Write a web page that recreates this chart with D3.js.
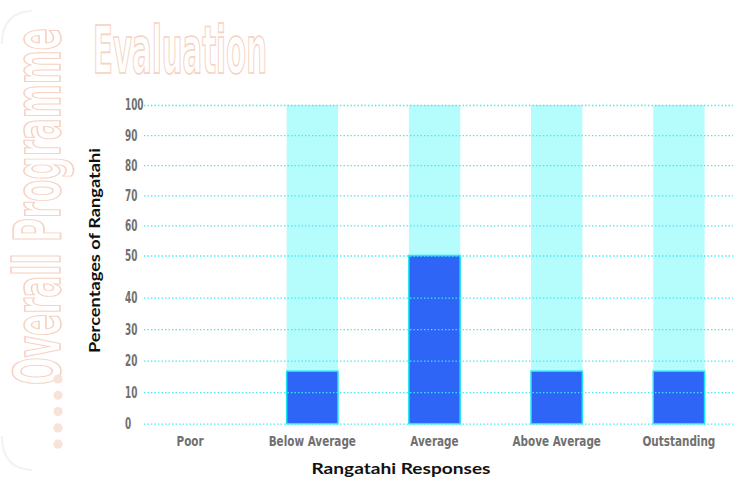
<!DOCTYPE html>
<html>
<head>
<meta charset="utf-8">
<script src="https://cdn.jsdelivr.net/npm/d3@7"></script>
<style>
  html, body { margin: 0; padding: 0; background: #ffffff; }
  svg { display: block; }
</style>
</head>
<body>
<script>
// Survey results: share of rangatahi choosing each rating
const categories = ["Poor", "Below Average", "Average", "Above Average", "Outstanding"];
const percentages = [0, 16.67, 50, 16.67, 16.67];
const backdrop = [0, 100, 100, 100, 100];
const yTicks = [0, 10, 20, 30, 40, 50, 60, 70, 80, 90, 100];

const W = 744, H = 479;
const svg = d3.select("body").append("svg").attr("width", W).attr("height", H);
const defs = svg.append("defs");

// Frame gradients
const gTop = defs.append("linearGradient").attr("id", "frameTop").attr("x1", "0%").attr("x2", "100%");
gTop.append("stop").attr("offset", "0%").attr("stop-color", "#fdf1ec");
gTop.append("stop").attr("offset", "100%").attr("stop-color", "#f3b9a2");
const gBot = defs.append("linearGradient").attr("id", "frameBot").attr("x1", "0%").attr("x2", "100%");
gBot.append("stop").attr("offset", "0%").attr("stop-color", "#f5d3c5");
gBot.append("stop").attr("offset", "100%").attr("stop-color", "#efb198");

// Frame
svg.append("line").attr("x1", 10).attr("x2", 742).attr("y1", 10).attr("y2", 10)
  .attr("stroke", "url(#frameTop)").attr("stroke-width", 1.6);
svg.append("line").attr("x1", 20).attr("x2", 743).attr("y1", 470.5).attr("y2", 470.5)
  .attr("stroke", "url(#frameBot)").attr("stroke-width", 1.6);
svg.append("path").attr("d", "M2,44 Q2,12 32,11").attr("fill", "none")
  .attr("stroke", "#f2f2f2").attr("stroke-width", 2);
svg.append("path").attr("d", "M2,436 Q2,469 32,470").attr("fill", "none")
  .attr("stroke", "#f2f2f2").attr("stroke-width", 2);

// Outlined headings, squeezed horizontally to a target width
const headFont = "'DejaVu Sans Condensed', 'DejaVu Sans', sans-serif";
function outlinedHeading(parent, label, size, targetWidth) {
  const g = parent.append("g");
  const t = g.append("text").attr("x", 0).attr("y", 0)
    .attr("font-family", headFont).attr("font-weight", "bold").attr("font-size", size)
    .attr("fill", "#ffffff").attr("stroke", "#f6d2c3").attr("stroke-width", 1.2)
    .text(label);
  const natural = t.node().getComputedTextLength() || targetWidth;
  const sx = targetWidth / natural;
  g.attr("transform", `scale(${sx},1)`);
  t.attr("stroke-width", 1.2 / Math.sqrt(sx));
  return g;
}
outlinedHeading(svg.append("g").attr("transform", "translate(93,73)"), "Evaluation", 66, 174);
outlinedHeading(svg.append("g").attr("transform", "translate(60,385) rotate(-90)"), "Overall Programme", 64, 357);

svg.append("g").selectAll("circle").data(d3.range(5)).join("circle")
  .attr("cx", 58).attr("cy", i => 379 + i * 16.3).attr("r", 4.6)
  .attr("fill", "#f8e2d9");

// Scales
const x = d3.scaleBand().domain(categories).range([129, 740])
  .paddingInner(0.58).paddingOuter(0.29);
const y = d3.scaleLinear().domain([0, 40, 50, 100]).range([423.7, 297.7, 255.5, 105]);

const rows = categories.map((c, i) => ({ c, v: percentages[i], b: backdrop[i] }));

// Backdrop columns
svg.append("g").selectAll("rect").data(rows.filter(d => d.b > 0)).join("rect")
  .attr("x", d => x(d.c)).attr("width", x.bandwidth())
  .attr("y", d => y(d.b)).attr("height", d => y(0) - y(d.b))
  .attr("fill", "#b5fcfd");

// Value bars
svg.append("g").selectAll("rect").data(rows.filter(d => d.v > 0)).join("rect")
  .attr("x", d => x(d.c)).attr("width", x.bandwidth())
  .attr("y", d => y(d.v)).attr("height", d => y(0) - y(d.v))
  .attr("fill", "#2e65f6").attr("stroke", "#19e6f2").attr("stroke-width", 1.5);

// Dotted gridlines on top of the bars
const grid = svg.append("g").attr("transform", "translate(144,0)")
  .call(d3.axisRight(y).tickValues(yTicks).tickSize(589).tickFormat(""));
grid.select(".domain").remove();
grid.selectAll(".tick line").attr("stroke", "#3de9f5").attr("stroke-width", 1.3)
  .attr("stroke-dasharray", "1.4,2.1");

// Tick labels (narrow bold face)
const tickFont = "'DejaVu Sans Condensed', 'DejaVu Sans', sans-serif";
svg.append("g").selectAll("g").data(yTicks).join("g")
  .attr("transform", d => `translate(125,${y(d)}) scale(0.66,1)`)
  .append("text").attr("x", 0).attr("y", 0).attr("dy", "0.36em")
  .attr("font-family", tickFont).attr("font-weight", "bold").attr("font-size", 15)
  .attr("fill", "#707070").attr("text-anchor", "start")
  .text(d => d);

svg.append("g").selectAll("g").data(categories).join("g")
  .attr("transform", d => `translate(${x(d) + x.bandwidth() / 2},446) scale(0.8,1)`)
  .append("text")
  .attr("font-family", tickFont).attr("font-weight", "bold").attr("font-size", 14.5)
  .attr("fill", "#707070").attr("text-anchor", "middle")
  .text(d => d);

// Axis titles
const titleFont = "Lato, 'Open Sans', sans-serif";
svg.append("rect").attr("x", 305).attr("y", 462).attr("width", 193).attr("height", 16)
  .attr("fill", "#ffffff");
svg.append("text").attr("x", 311.5).attr("y", 473.5)
  .attr("font-family", titleFont).attr("font-weight", "bold").attr("font-size", 15.5)
  .attr("textLength", 179).attr("lengthAdjust", "spacingAndGlyphs")
  .attr("fill", "#111111").text("Rangatahi Responses");
svg.append("g").attr("transform", "translate(99.5,353) rotate(-90)")
  .append("text").attr("x", 0).attr("y", 0)
  .attr("font-family", titleFont).attr("font-weight", "bold").attr("font-size", 15.5)
  .attr("textLength", 205).attr("lengthAdjust", "spacingAndGlyphs")
  .attr("fill", "#111111").text("Percentages of Rangatahi");
</script>
</body>
</html>
